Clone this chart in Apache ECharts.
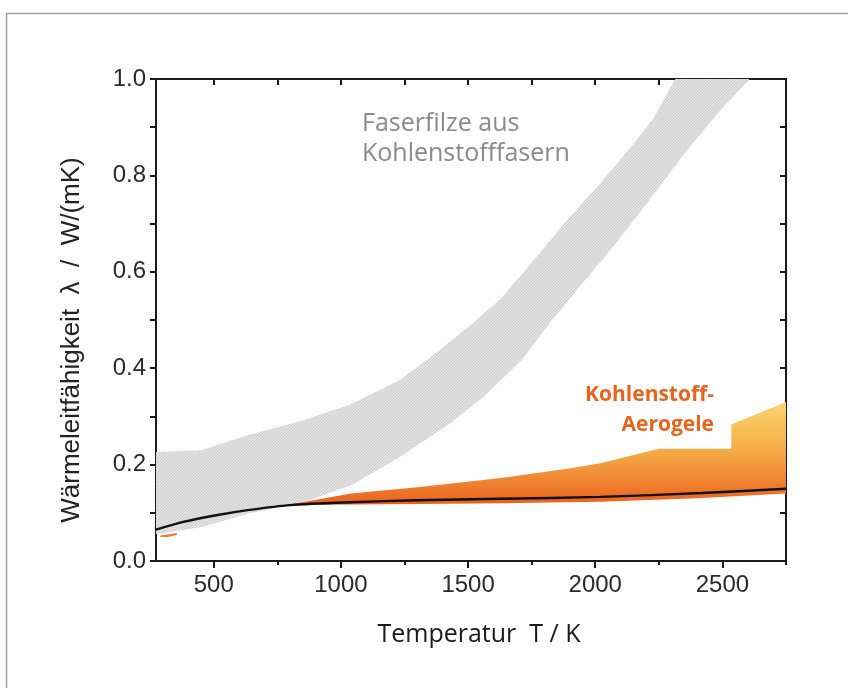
<!DOCTYPE html>
<html>
<head>
<meta charset="utf-8">
<script src="https://cdn.jsdelivr.net/npm/echarts@6/dist/echarts.min.js"></script>
<style>
  html, body { margin: 0; padding: 0; background: #fff; }
  #chart { width: 848px; height: 688px; }
</style>
</head>
<body>
<div id="chart"></div>
<script>
// Faserfilze aus Kohlenstofffasern: obere / untere Grenze des Bandes
const fiberUpperT = [273, 450, 640, 840, 1040, 1230, 1365, 1500, 1630, 1760, 1890, 2020, 2150, 2230, 2310, 2420];
const fiberUpperL = [0.226, 0.230, 0.262, 0.290, 0.325, 0.375, 0.428, 0.485, 0.545, 0.625, 0.708, 0.783, 0.865, 0.919, 0.996, 1.08];
const fiberLowerT = [273, 450, 640, 800, 840, 1040, 1230, 1430, 1560, 1710, 1820, 1950, 2090, 2220, 2350, 2480, 2600, 2720];
const fiberLowerL = [0.056, 0.070, 0.099, 0.116, 0.120, 0.157, 0.215, 0.286, 0.340, 0.416, 0.493, 0.576, 0.665, 0.754, 0.845, 0.928, 0.996, 1.07];

// Kohlenstoff-Aerogele: Band
const aeroUpperT = [810, 1040, 1300, 1630, 1910, 2020, 2250, 2535, 2535, 2750];
const aeroUpperL = [0.118, 0.140, 0.153, 0.172, 0.193, 0.203, 0.233, 0.233, 0.283, 0.330];
const aeroLowerT = [810, 1040, 1300, 1630, 2020, 2400, 2750];
const aeroLowerL = [0.116, 0.117, 0.118, 0.120, 0.123, 0.130, 0.140];
// kleiner Rest bei tiefen Temperaturen
const aeroLowUpperT = [290, 320, 355];
const aeroLowUpperL = [0.053, 0.055, 0.058];
const aeroLowLowerT = [290, 320, 355];
const aeroLowLowerL = [0.050, 0.050, 0.054];

// Messkurve (schwarz)
const curveT = [273, 380, 510, 640, 800, 1040, 1300, 1630, 2020, 2420, 2750];
const curveL = [0.065, 0.081, 0.095, 0.106, 0.116, 0.122, 0.126, 0.129, 0.133, 0.141, 0.150];

// Achsen
const xLabels = [500, 1000, 1500, 2000, 2500];
const xMinor = [750, 1250, 1750, 2250, 2750];
const xAll = [500, 750, 1000, 1250, 1500, 1750, 2000, 2250, 2500, 2750];

const zip = (a, b) => a.map((v, i) => [v, b[i]]);

// Schraffur fuer das graue Band
const hatch = document.createElement('canvas');
hatch.width = 3; hatch.height = 3;
const hctx = hatch.getContext('2d');
hctx.fillStyle = '#e2e2e2';
hctx.fillRect(0, 0, 3, 3);
hctx.strokeStyle = '#c6c6c6';
hctx.lineWidth = 0.8;
hctx.beginPath();
hctx.moveTo(0, 3); hctx.lineTo(3, 0);
hctx.moveTo(-1, 1); hctx.lineTo(1, -1);
hctx.moveTo(2, 4); hctx.lineTo(4, 2);
hctx.stroke();

// Band als Polygon aus oberer und unterer Grenze
function band(upper, lower, fill) {
  return function (params, api) {
    const pts = upper.map(p => api.coord(p))
      .concat(lower.slice().reverse().map(p => api.coord(p)));
    return { type: 'polygon', shape: { points: pts }, style: { fill: fill } };
  };
}

// von unten (dunkelorange) nach oben (hellgelb)
const orangeFill = new echarts.graphic.LinearGradient(0, 1, 0, 0, [
  { offset: 0, color: '#e8611c' },
  { offset: 0.15, color: '#ee782a' },
  { offset: 0.4, color: '#f39b3e' },
  { offset: 0.65, color: '#f7b850' },
  { offset: 1, color: '#fbd56e' }
]);

const axisBlack = { lineStyle: { color: '#1a1a1a', width: 2 } };
const labelFont = { fontFamily: 'Liberation Sans', fontSize: 24, color: '#2a2a2a' };

const chart = echarts.init(document.getElementById('chart'));
chart.setOption({
  animation: false,
  backgroundColor: '#fff',
  grid: { left: 156, right: 62, top: 79, bottom: 127 },
  xAxis: [
    {
      type: 'value', position: 'bottom', min: 273, max: 2750,
      axisLine: { show: true, onZero: false, ...axisBlack },
      axisTick: { show: true, length: 7, lineStyle: { color: '#1a1a1a', width: 2 }, customValues: xLabels },
      axisLabel: { ...labelFont, margin: 12, customValues: xLabels, formatter: v => String(v) },
      splitLine: { show: false }
    },
    {
      type: 'value', position: 'bottom', min: 273, max: 2750,
      axisLine: { show: false },
      axisTick: { show: true, length: 4, lineStyle: { color: '#1a1a1a', width: 2 }, customValues: xMinor },
      axisLabel: { show: false },
      splitLine: { show: false }
    },
    {
      type: 'value', position: 'top', min: 273, max: 2750,
      axisLine: { show: true, onZero: false, ...axisBlack },
      axisTick: { show: true, inside: true, length: 6, lineStyle: { color: '#1a1a1a', width: 2 }, customValues: xAll },
      axisLabel: { show: false },
      splitLine: { show: false }
    }
  ],
  yAxis: [
    {
      type: 'value', position: 'left', min: 0, max: 1, interval: 0.1,
      axisLine: { show: true, onZero: false, ...axisBlack },
      axisTick: { show: true, length: 6, lineStyle: { color: '#1a1a1a', width: 2 } },
      axisLabel: {
        ...labelFont, margin: 10,
        formatter: v => (Math.round(v * 10) % 2 === 0 ? v.toFixed(1) : '')
      },
      splitLine: { show: false }
    },
    {
      type: 'value', position: 'right', min: 0, max: 1, interval: 0.1,
      axisLine: { show: true, onZero: false, ...axisBlack },
      axisTick: { show: true, inside: true, length: 6, lineStyle: { color: '#1a1a1a', width: 2 } },
      axisLabel: { show: false },
      splitLine: { show: false }
    }
  ],
  series: [
    {
      name: 'Faserfilze', type: 'custom', clip: true,
      data: [[273, 0]],
      renderItem: band(zip(fiberUpperT, fiberUpperL), zip(fiberLowerT, fiberLowerL), { image: hatch, repeat: 'repeat' }),
      z: 1
    },
    {
      name: 'Aerogele', type: 'custom', clip: true,
      data: [[810, 0]],
      renderItem: band(zip(aeroUpperT, aeroUpperL), zip(aeroLowerT, aeroLowerL), orangeFill),
      z: 2
    },
    {
      name: 'Aerogele tief', type: 'custom', clip: true,
      data: [[290, 0]],
      renderItem: band(zip(aeroLowUpperT, aeroLowUpperL), zip(aeroLowLowerT, aeroLowLowerL), '#ee7a30'),
      z: 2
    },
    {
      name: 'Kurve', type: 'line', smooth: 0.3, showSymbol: false,
      data: zip(curveT, curveL),
      lineStyle: { color: '#111', width: 2.4 },
      z: 3
    }
  ],
  graphic: [
    {
      type: 'rect', left: 4, top: 11, silent: true,
      shape: { width: 900, height: 800 },
      style: { fill: 'none', stroke: '#a0a0a0', lineWidth: 1.5 }
    },
    {
      type: 'text', x: 72, y: 340, rotation: Math.PI / 2,
      style: {
        text: 'Wärmeleitfähigkeit  λ  /  W/(mK)', align: 'center', verticalAlign: 'middle',
        font: '26px "Liberation Sans"', fill: '#222'
      }
    },
    {
      type: 'text', x: 479, y: 635,
      style: {
        text: 'Temperatur  T / K', align: 'center', verticalAlign: 'middle',
        font: '25px "Open Sans"', fill: '#1a1a1a'
      }
    },
    {
      type: 'text', x: 362, y: 124,
      style: { text: 'Faserfilze aus', align: 'left', verticalAlign: 'middle', font: '25px "Open Sans"', fill: '#8a8a8a' }
    },
    {
      type: 'text', x: 362, y: 154,
      style: { text: 'Kohlenstofffasern', align: 'left', verticalAlign: 'middle', font: '25px "Open Sans"', fill: '#8a8a8a' }
    },
    {
      type: 'text', x: 714, y: 395,
      style: { text: 'Kohlenstoff-', align: 'right', verticalAlign: 'middle', font: 'bold 21px "Open Sans"', fill: '#e8631c' }
    },
    {
      type: 'text', x: 714, y: 425,
      style: { text: 'Aerogele', align: 'right', verticalAlign: 'middle', font: 'bold 21px "Open Sans"', fill: '#e8631c' }
    }
  ]
});
</script>
</body>
</html>
